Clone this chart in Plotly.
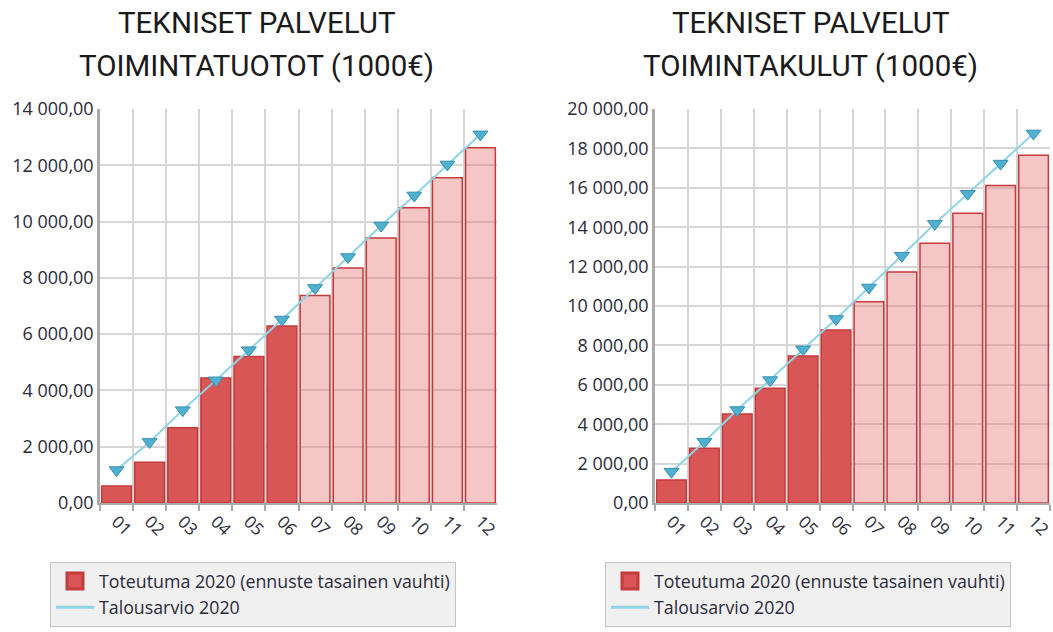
import plotly.graph_objects as go

months = ["01", "02", "03", "04", "05", "06", "07", "08", "09", "10", "11", "12"]

# Left chart: TOIMINTATUOTOT
tuotot_toteutuma = [600, 1450, 2670, 4440, 5210, 6290, 7370, 8350, 9420, 10490, 11560, 12620]
tuotot_talousarvio = [1170, 2170, 3300, 4360, 5430, 6520, 7640, 8740, 9860, 10930, 12030, 13100]

# Right chart: TOIMINTAKULUT
kulut_toteutuma = [1170, 2780, 4520, 5820, 7460, 8780, 10220, 11730, 13180, 14710, 16120, 17650]
kulut_talousarvio = [1590, 3110, 4720, 6240, 7800, 9340, 10940, 12550, 14170, 15700, 17230, 18760]

actual_months = 6  # months 01-06 realised, rest forecast

title_left = ["TEKNISET PALVELUT", "TOIMINTATUOTOT (1000€)"]
title_right = ["TEKNISET PALVELUT", "TOIMINTAKULUT (1000€)"]
bar_name = "Toteutuma 2020 (ennuste tasainen vauhti)"
line_name = "Talousarvio 2020"

W, H = 1053, 632
BAR_DARK = "#d85656"
BAR_LIGHT = "rgba(232,120,120,0.42)"
BAR_EDGE = "#c53a3a"
LINE_C = "#8fd3e6"
MARK_C = "#4fb0cf"
MARK_EDGE = "#3a8fae"
FONT = "Open Sans"
TXT = "#2a2a3a"

fig = go.Figure()

def add_chart(xa, ya, legend, bars, line):
    colors = [BAR_DARK if i < actual_months else BAR_LIGHT for i in range(len(bars))]
    fig.add_trace(go.Bar(
        x=months, y=bars, name=bar_name, xaxis=xa, yaxis=ya, legend=legend,
        marker=dict(color=colors, line=dict(color=BAR_EDGE, width=1.5)),
        width=0.9, showlegend=False,
    ))
    fig.add_trace(go.Scatter(
        x=months, y=line, name=line_name, xaxis=xa, yaxis=ya, legend=legend,
        mode="lines+markers", showlegend=False,
        line=dict(color=LINE_C, width=2),
        marker=dict(symbol="triangle-down", size=13, color=MARK_C,
                    line=dict(color=MARK_EDGE, width=1)),
    ))
    # legend entries
    fig.add_trace(go.Scatter(
        x=[None], y=[None], name=bar_name, xaxis=xa, yaxis=ya, legend=legend,
        mode="markers", showlegend=True,
        marker=dict(symbol="square", size=16, color=BAR_DARK,
                    line=dict(color=BAR_EDGE, width=3)),
    ))
    fig.add_trace(go.Scatter(
        x=[None], y=[None], name=line_name, xaxis=xa, yaxis=ya, legend=legend,
        mode="lines", line=dict(color=LINE_C, width=3), showlegend=True,
    ))

add_chart("x", "y", "legend", tuotot_toteutuma, tuotot_talousarvio)
add_chart("x2", "y2", "legend2", kulut_toteutuma, kulut_talousarvio)

ydom = [(H - 503) / H, (H - 109) / H]
xcommon = dict(
    type="category", tickson="boundaries", ticks="outside", ticklen=6, tickwidth=2,
    tickcolor="#aaaaaa", showgrid=True, gridcolor="#d6d6d6", gridwidth=1.5,
    showline=True, linecolor="#aaaaaa", linewidth=2, tickangle=45,
    tickfont=dict(family=FONT, size=17, color=TXT), automargin=False,
    fixedrange=True, range=[-0.5, len(months) - 0.5], autorange=False,
)
ycommon = dict(
    showgrid=True, gridcolor="#d6d6d6", gridwidth=1.5, dtick=2000, tickformat=",.2f",
    showline=True, linecolor="#aaaaaa", linewidth=2.5, ticks="", zeroline=False,
    tickfont=dict(family=FONT, size=18, color=TXT), automargin=False,
    fixedrange=True,
)

legend_common = dict(
    bgcolor="#f0f0f0", bordercolor="#c4c4c4", borderwidth=1,
    font=dict(family=FONT, size=17.8, color=TXT),
    xanchor="left", yanchor="top", orientation="v", tracegroupgap=0,
    itemwidth=38,
)

fig.update_layout(
    width=W, height=H,
    margin=dict(l=0, r=0, t=0, b=0, autoexpand=False),
    paper_bgcolor="white", plot_bgcolor="white",
    separators=", ",
    bargap=0.1,
    xaxis=dict(domain=[100 / W, 497 / W], anchor="y", **xcommon),
    yaxis=dict(domain=ydom, anchor="x", range=[0, 14000], **ycommon),
    xaxis2=dict(domain=[655 / W, 1050 / W], anchor="y2", **xcommon),
    yaxis2=dict(domain=ydom, anchor="x2", range=[0, 20000], **ycommon),
    legend=dict(x=50 / W, y=(H - 562) / H, **legend_common),
    legend2=dict(x=605 / W, y=(H - 562) / H, **legend_common),
)

def add_title(lines, xc):
    for i, t in enumerate(lines):
        fig.add_annotation(
            text=t, xref="paper", yref="paper", x=xc / W, y=(H - (23 + 43 * i)) / H,
            showarrow=False, xanchor="center", yanchor="middle",
            font=dict(family="Roboto", size=29.5, color="#1a1a1a"),
        )

add_title(title_left, 256)
add_title(title_right, 810)

fig.write_html(
    "out.html",
    config={"displayModeBar": False},
    post_script="document.body.style.margin='0';document.body.style.overflow='hidden';",
)
